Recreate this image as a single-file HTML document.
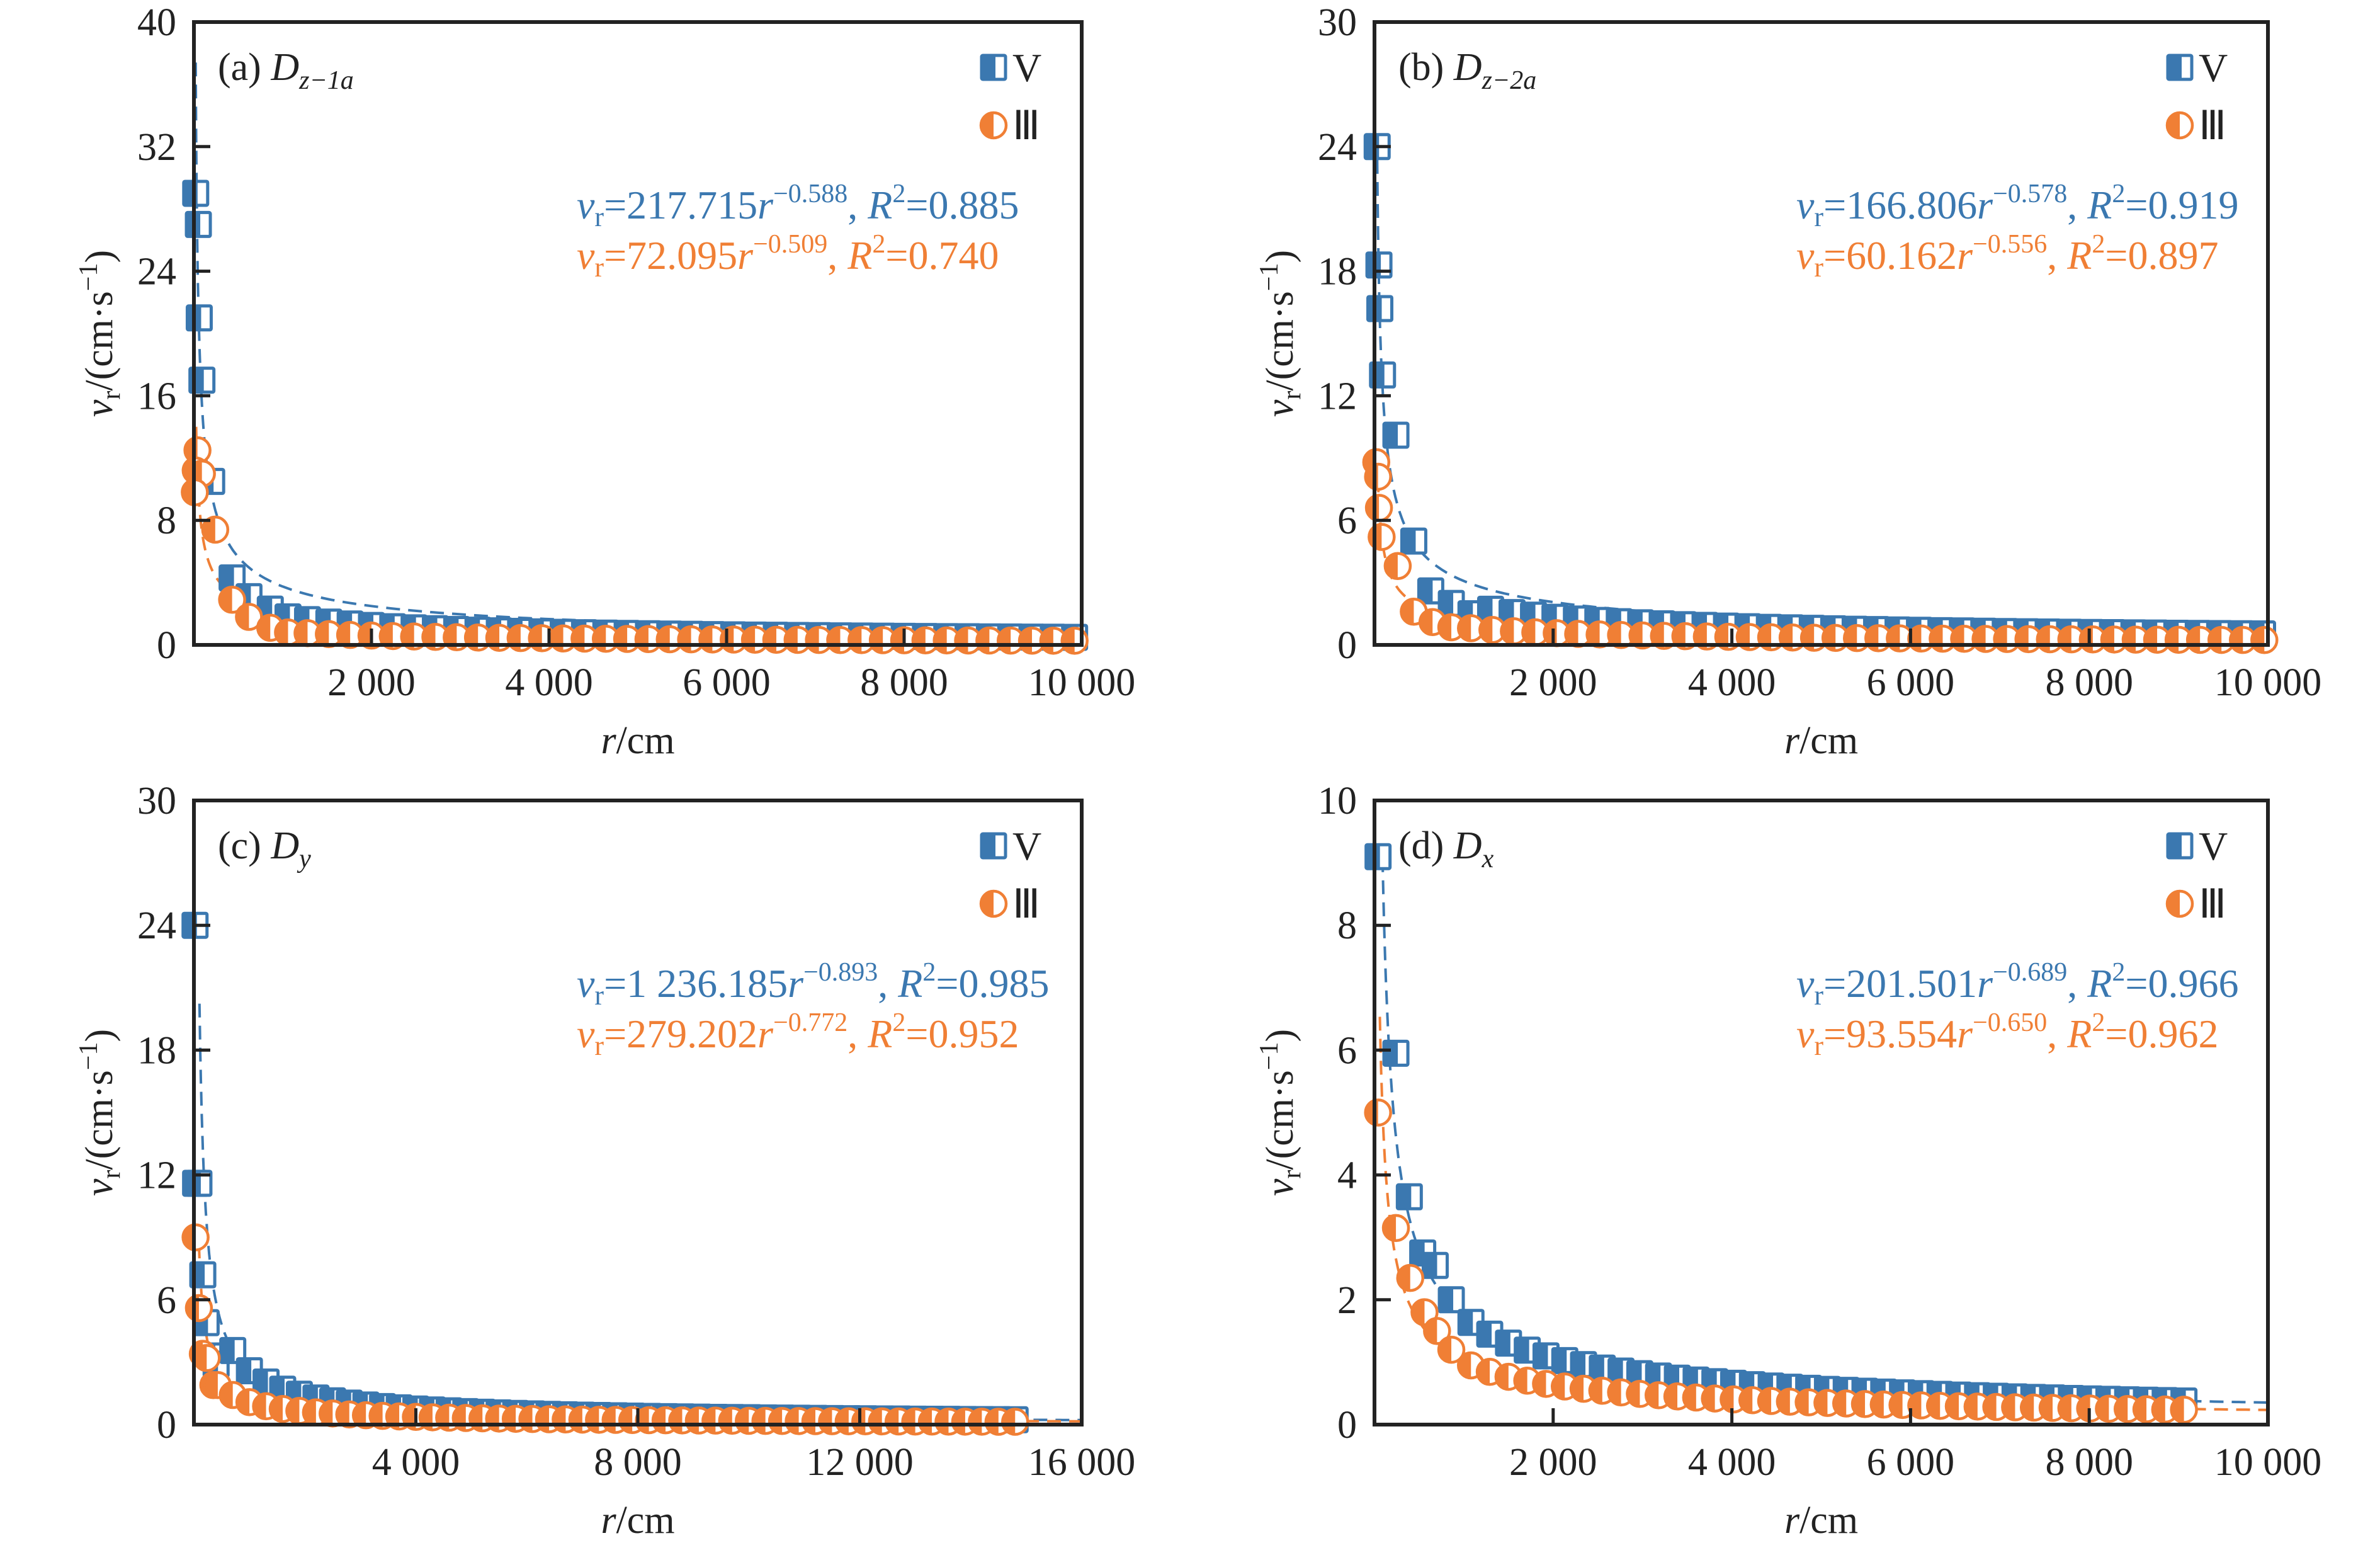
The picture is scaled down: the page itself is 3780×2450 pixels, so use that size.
<!DOCTYPE html>
<html><head><meta charset="utf-8">
<style>
html,body{margin:0;padding:0;background:#fff;}
svg{display:block;}
svg text{font-family:"Liberation Serif","Times New Roman",serif !important;}
</style></head>
<body>
<svg id="s" width="3780" height="2450" xmlns="http://www.w3.org/2000/svg" font-family="Liberation Serif, serif"></svg>
<script>
const S=document.getElementById('s');
const B='#3b78b0',O='#f07f35',K='#222';
const F='font-family="Liberation Serif, serif"';
let h='';
function panel(p){
  const {x0,x1,y0,y1,xmax,ymax,yt,xt,title,sub,eqB,eqO,A1,b1,A2,b2,ptsB,ptsO,fitStartB,fitStartO}=p;
  const X=r=>x0+(x1-x0)*r/xmax, Y=v=>y1-(y1-y0)*v/ymax;
  const curve=(A,b,rs,col)=>{let d='';for(let r=rs;r<=xmax;r+= (r<500?5:50)){const v=A*Math.pow(r,b);if(v>ymax)continue;d+=(d?'L':'M')+X(r).toFixed(1)+','+Y(v).toFixed(1);}
    h+=`<path d="${d}" fill="none" stroke="${col}" stroke-width="4" stroke-dasharray="22,13"/>`;};
  curve(A1,b1,fitStartB,B);curve(A2,b2,fitStartO,O);
  const sq=(cx,cy)=>{h+=`<rect x="${cx-19}" y="${cy-19}" width="38" height="38" fill="#fff" stroke="${B}" stroke-width="5" rx="2"/><rect x="${cx-19}" y="${cy-19}" width="22" height="38" fill="${B}"/>`;};
  const ci=(cx,cy)=>{h+=`<circle cx="${cx}" cy="${cy}" r="20" fill="#fff" stroke="${O}" stroke-width="4.5"/><path d="M${cx},${cy-20} A20,20 0 0 0 ${cx},${cy+20} Z" fill="${O}"/>`;};
  ptsB.forEach(([r,v])=>sq(X(r),Y(v)));
  ptsO.forEach(([r,v])=>ci(X(r),Y(v)));
  h+=`<rect x="${x0}" y="${y0}" width="${x1-x0}" height="${y1-y0}" fill="none" stroke="${K}" stroke-width="6"/>`;
  yt.forEach(v=>{const y=Y(v);if(v>0&&v<ymax)h+=`<line x1="${x0}" y1="${y}" x2="${x0+26}" y2="${y}" stroke="${K}" stroke-width="5"/>`;
    h+=`<text ${F} x="${x0-28}" y="${y+21}" font-size="62" text-anchor="end" fill="${K}">${v}</text>`;});
  xt.forEach(r=>{const x=X(r);if(r<xmax)h+=`<line x1="${x}" y1="${y1}" x2="${x}" y2="${y1-26}" stroke="${K}" stroke-width="5"/>`;
    const s=r>=1000?String(Math.floor(r/1000))+' 000':String(r);
    h+=`<text ${F} x="${x}" y="${y1+80}" font-size="62" text-anchor="middle" fill="${K}">${s}</text>`;});
  const cx=(x0+x1)/2, cy=(y0+y1)/2;
  h+=`<text ${F} x="${cx}" y="${y1+172}" font-size="62" text-anchor="middle" fill="${K}"><tspan font-style="italic">r</tspan>/cm</text>`;
  h+=`<text ${F} transform="translate(${x0-130},${cy}) rotate(-90)" font-size="62" text-anchor="middle" fill="${K}"><tspan font-style="italic">v</tspan><tspan font-size="42" dy="12">r</tspan><tspan dy="-12">/(cm·s</tspan><tspan font-size="42" dy="-24">−1</tspan><tspan dy="24">)</tspan></text>`;
  h+=`<text ${F} x="${x0+38}" y="${y0+92}" font-size="62" fill="${K}">(${title}) <tspan font-style="italic">D</tspan><tspan font-size="42" font-style="italic" dy="14">${sub}</tspan></text>`;
  sq(x1-140,y0+72);ci(x1-140,y0+164);
  h+=`<text ${F} x="${x1-110}" y="${y0+94}" font-size="64" fill="${K}">V</text>`;
  h+=`<text ${F} x="${x1-110}" y="${y0+186}" font-size="64" fill="${K}">Ⅲ</text>`;
  const eq=(e,y,col)=>{h+=`<text ${F} x="${x0+p.eqx}" y="${y}" font-size="64" fill="${col}"><tspan font-style="italic">v</tspan><tspan font-size="44" dy="12">r</tspan><tspan dy="-12">=${e[0]}</tspan><tspan font-style="italic">r</tspan><tspan font-size="42" dy="-26">−${e[1]}</tspan><tspan dy="26">, </tspan><tspan font-style="italic">R</tspan><tspan font-size="42" dy="-26">2</tspan><tspan dy="26">=${e[2]}</tspan></text>`;};
  eq(eqB,y0+312,B);eq(eqO,y0+392,O);
}
function seq(a,step,b){const r=[];for(let x=a;x<=b+1;x+=step)r.push(x);return r;}
function gen(early,rs,A,b,k){return early.concat(rs.map(r=>[r,A*Math.pow(r,b)*k]));}

const ax0=308,ax1=1718,bx0=2183,bx1=3602,ty0=35,ty1=1024,by0=1271,by1=2262;
panel({x0:ax0,x1:ax1,y0:ty0,y1:ty1,xmax:10000,ymax:40,yt:[0,8,16,24,32,40],xt:[2000,4000,6000,8000,10000],title:'a',sub:'z−1a',
 eqB:['217.715','0.588','0.885'],eqO:['72.095','0.509','0.740'],A1:217.715,b1:-0.588,A2:72.095,b2:-0.509,eqx:608,
 fitStartB:20,fitStartO:25,
 ptsB:gen([[20,29],[50,27],[60,21],[90,17],[200,10.5],[430,4.3],[620,3.1],[860,2.3],[1060,1.8]],seq(1280,240,10000),217.715,-0.588,0.5),
 ptsO:gen([[40,12.5],[20,11.2],[90,11],[10,9.8],[240,7.4],[430,2.9],[620,1.8],[860,1.1],[1060,0.8]],seq(1280,240,10000),72.095,-0.509,0.4)});
panel({x0:bx0,x1:bx1,y0:ty0,y1:ty1,xmax:10000,ymax:30,yt:[0,6,12,18,24,30],xt:[2000,4000,6000,8000,10000],title:'b',sub:'z−2a',
 eqB:['166.806','0.578','0.919'],eqO:['60.162','0.556','0.897'],A1:166.806,b1:-0.578,A2:60.162,b2:-0.556,eqx:670,
 fitStartB:30,fitStartO:30,
 ptsB:gen([[30,24],[50,18.3],[60,16.2],[90,13],[240,10.1],[440,5],[630,2.6],[860,2.0],[1080,1.5]],seq(1300,240,10000),166.806,-0.578,0.65),
 ptsO:gen([[20,8.8],[40,8.1],[50,6.6],[80,5.2],[260,3.8],[440,1.6],[650,1.1],[860,0.85]],seq(1080,240,10000),60.162,-0.556,0.65)});
panel({x0:ax0,x1:ax1,y0:by0,y1:by1,xmax:16000,ymax:30,yt:[0,6,12,18,24,30],xt:[4000,8000,12000,16000],title:'c',sub:'y',
 eqB:['1 236.185','0.893','0.985'],eqO:['279.202','0.772','0.952'],A1:1236.185,b1:-0.893,A2:279.202,b2:-0.772,eqx:608,
 fitStartB:100,fitStartO:90,
 ptsB:gen([[20,24],[30,11.6],[90,11.6],[160,7.2],[220,4.9],[350,3.3],[400,2.9]],seq(700,300,15000),1236.185,-0.893,1),
 ptsO:gen([[30,9],[90,5.6],[160,3.4],[230,3.2],[350,1.9],[430,1.9]],seq(700,300,15000),279.202,-0.772,0.8)});
panel({x0:bx0,x1:bx1,y0:by0,y1:by1,xmax:10000,ymax:10,yt:[0,2,4,6,8,10],xt:[2000,4000,6000,8000,10000],title:'d',sub:'x',
 eqB:['201.501','0.689','0.966'],eqO:['93.554','0.650','0.962'],A1:201.501,b1:-0.689,A2:93.554,b2:-0.650,eqx:670,
 fitStartB:90,fitStartO:60,
 ptsB:gen([[40,9.1],[240,5.95],[390,3.65],[540,2.75],[680,2.55],[860,2.0]],seq(1080,210,9200),201.501,-0.689,1),
 ptsO:gen([[40,5],[240,3.15],[400,2.35],[560,1.8],[700,1.5],[860,1.2]],seq(1080,210,9080),93.554,-0.650,0.95)});
S.innerHTML=h;
</script>
</body></html>
